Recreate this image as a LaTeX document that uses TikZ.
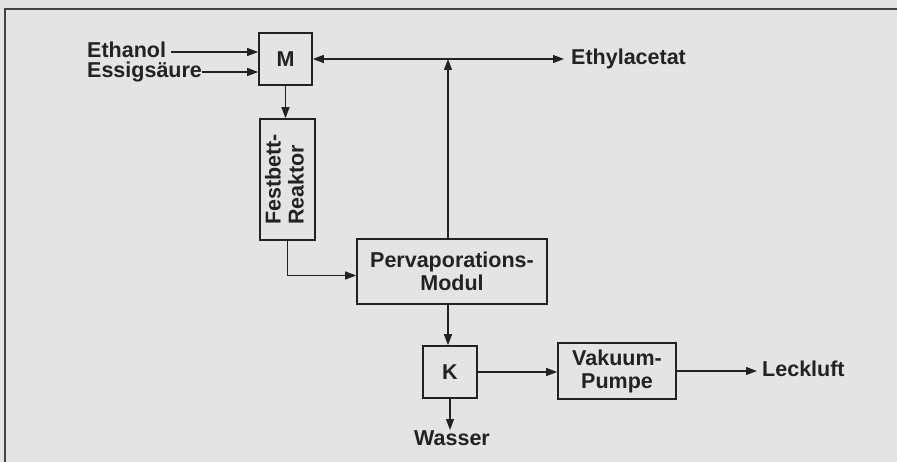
\documentclass[tikz,border=0pt]{standalone}
\usepackage{fontspec}
\setmainfont{Liberation Sans}
\usetikzlibrary{arrows.meta, positioning, calc}
\definecolor{PaperGrey}{HTML}{E4E4E4}
\definecolor{InkGrey}{HTML}{222222}

\begin{document}
\begin{tikzpicture}[x=1pt, y=-1pt,
  box/.style={draw=InkGrey, line width=1.6pt, inner sep=0pt, align=center,
    text=InkGrey, font=\bfseries\fontsize{21.5}{23}\selectfont},
  lbl/.style={inner sep=0pt, text height=15pt, text depth=4pt, text=InkGrey,
    font=\bfseries\fontsize{21.5}{23}\selectfont},
  arr/.style={draw=InkGrey, line width=1.1pt, -{Triangle[length=11pt, width=8pt]}}]
  \useasboundingbox (0,0) rectangle (897,462);
  % paper and frame
  \fill[PaperGrey] (-2,-2) rectangle (899,464);
  \draw[line width=2pt, InkGrey!85] (899,9) -- (5,9) -- (5,464);

  % units
  \node[box, minimum width=53pt, minimum height=52pt] (M) at (285.5,59) {M};
  \node[box, minimum width=55pt, minimum height=121pt] (reactor) at (287.5,179.5)
    {\rotatebox{90}{\begin{tabular}{@{}l@{}}Festbett-\\Reaktor\end{tabular}}};
  \node[box, minimum width=190pt, minimum height=65pt] (perv) at (452,271.5)
    {Pervaporations-\\Modul};
  \node[box, minimum width=54pt, minimum height=52pt] (K) at (450,372) {K};
  \node[box, minimum width=118pt, minimum height=56pt] (pump) at (617,371)
    {Vakuum-\\Pumpe};

  % streams
  \node[lbl, anchor=west] (ethanol) at (87,52) {Ethanol};
  \node[lbl, anchor=west] (essig) at (87,72) {Essigsäure};
  \node[lbl, anchor=west] (ethyl) at (571,59) {Ethylacetat};
  \node[lbl, anchor=west] (leck) at (762,371) {Leckluft};
  \node[lbl, anchor=north] (wasser) at (452,430) {Wasser};
  \coordinate (tee) at (448,59);

  \draw[arr] ([xshift=5pt]ethanol.east) -- (M.west |- ethanol.east);
  \draw[arr] (essig.east) -- (M.west |- essig.east);
  \draw[arr] (M.south) -- (M.south |- reactor.north);
  \draw[arr] (reactor.south) |- ($(perv.west)+(0,4)$);
  \draw[arr] (perv.north -| tee) -- (tee);
  \draw[arr] (tee) -- (M.east);
  \draw[arr] (tee) -- ([xshift=-7pt]ethyl.west);
  \draw[arr] (perv.south -| tee) -- (K.north -| tee);
  \draw[arr] (K.east) -- (pump.west |- K.east);
  \draw[arr] (pump.east |- leck.west) -- ([xshift=-5pt]leck.west);
  \draw[arr] (K.south) -- (K.south |- wasser.north);
\end{tikzpicture}
\end{document}
